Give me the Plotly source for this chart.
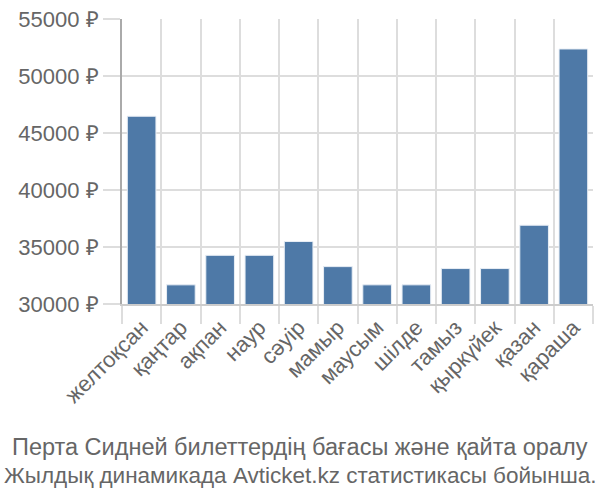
import plotly.graph_objects as go

months = ["желтоқсан", "қаңтар", "ақпан", "наур", "сәуір", "мамыр",
          "маусым", "шілде", "тамыз", "қыркүйек", "қазан", "қараша"]
prices = [46470, 31680, 34270, 34270, 35480, 33280,
          31680, 31680, 33110, 33110, 36910, 52370]

title_lines = ["Перта Сидней билеттердің бағасы және қайта оралу",
               "Жылдық динамикада Avticket.kz статистикасы бойынша."]
title_sizes = [23.5, 22.5]

font_family = "Liberation Sans, Arial, sans-serif"
text_color = "#666666"

fig = go.Figure(go.Bar(
    x=months, y=prices,
    marker=dict(color="#4e79a7", line=dict(color="#e8eef5", width=1)),
    width=0.73,
))

annotations = []
for i, line in enumerate(title_lines):
    annotations.append(dict(
        text=line,
        x=(300 - 122) / 471, xref="paper", xanchor="center",
        y=0, yref="paper", yanchor="middle", yshift=-143 - 28 * i,
        showarrow=False, font=dict(size=title_sizes[i], color=text_color, family=font_family),
    ))

fig.update_layout(
    width=600, height=500,
    margin=dict(l=122, r=7, t=14, b=196),
    paper_bgcolor="white", plot_bgcolor="white",
    showlegend=False,
    font=dict(family=font_family, color=text_color, size=21),
    annotations=annotations,
)
fig.update_xaxes(
    type="category", tickson="boundaries",
    ticks="outside", ticklen=18, tickcolor="#dddddd", tickwidth=2,
    showgrid=True, gridcolor="#dddddd", gridwidth=2,
    showline=True, linecolor="#cccccc", linewidth=2,
    tickangle=-45, tickfont=dict(size=22),
)
fig.update_yaxes(
    range=[30000, 55000], dtick=5000, ticksuffix=" ₽", tickformat="d",
    ticks="outside", ticklen=17, tickcolor="#dddddd", tickwidth=2,
    showgrid=True, gridcolor="#dddddd", gridwidth=2,
    showline=True, linecolor="#aaaaaa", linewidth=2,
    zeroline=False, tickfont=dict(size=22),
)

fig.write_html("out.html")
